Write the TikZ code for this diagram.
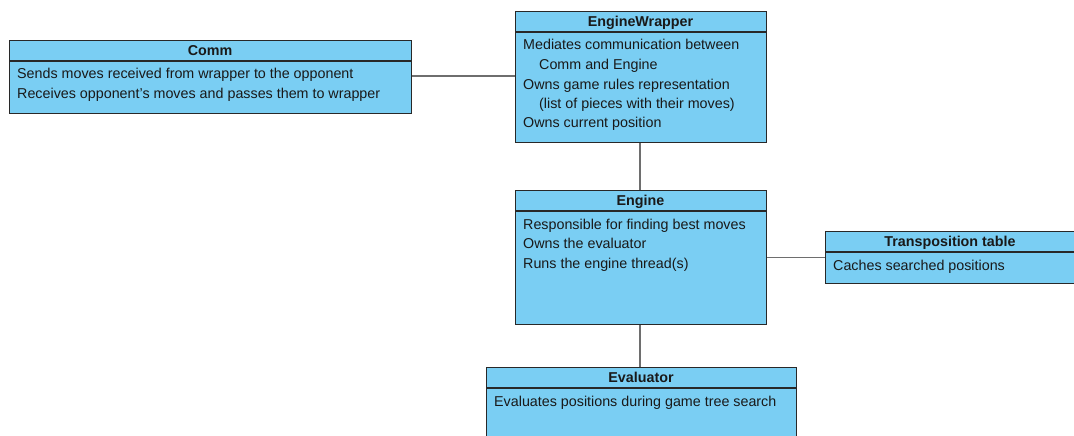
\documentclass[tikz,border=0pt]{standalone}
\usepackage{fontspec}
\setmainfont{Liberation Sans}
\definecolor{classfill}{RGB}{122,206,243}
\definecolor{classedge}{RGB}{40,40,40}
\definecolor{linkgray}{RGB}{110,110,110}
\definecolor{inktext}{RGB}{25,25,25}
\tikzset{
  classbox/.style={draw=classedge, fill=classfill, line width=1.1pt, anchor=north west, inner sep=0pt},
  divider/.style={draw=classedge, line width=1.1pt},
  title/.style={anchor=base, inner sep=0pt, text=inktext, font=\fontsize{14.3}{16}\selectfont\bfseries},
  txt/.style={anchor=base west, inner sep=0pt, text=inktext, font=\fontsize{14.3}{16}\selectfont},
  link/.style={draw=linkgray, line width=1.6pt},
}
\begin{document}
\begin{tikzpicture}[x=1pt, y=-1pt]
\useasboundingbox (0,0) rectangle (1074,436);
\clip (0,0) rectangle (1074,436);

% Comm
\node[classbox, minimum width=402pt, minimum height=73pt] (comm) at (9,40) {};
\draw[divider] (9,61) -- (411,61);
\node[title] (commT) at (210,55.5) {Comm};
\node[txt] (comm1) at (17,79) {Sends moves received from wrapper to the opponent};
\node[txt] (comm2) at (17,98.5) {Receives opponent's moves and passes them to wrapper};

% EngineWrapper
\node[classbox, minimum width=251pt, minimum height=131pt] (wrap) at (515,11) {};
\draw[divider] (515,32) -- (766,32);
\node[title] (wrapT) at (640.5,26.5) {EngineWrapper};
\node[txt] (wrap1) at (523,50) {Mediates communication between};
\node[txt] (wrap2) at (539,69.5) {Comm and Engine};
\node[txt] (wrap3) at (523,89) {Owns game rules representation};
\node[txt] (wrap4) at (539,108.5) {(list of pieces with their moves)};
\node[txt] (wrap5) at (523,128) {Owns current position};

% Engine
\node[classbox, minimum width=251pt, minimum height=134pt] (eng) at (515,190) {};
\draw[divider] (515,211) -- (766,211);
\node[title] (engT) at (640.5,205.5) {Engine};
\node[txt] (eng1) at (523,229) {Responsible for finding best moves};
\node[txt] (eng2) at (523,248.5) {Owns the evaluator};
\node[txt] (eng3) at (523,268) {Runs the engine thread(s)};

% Transposition table
\node[classbox, minimum width=252pt, minimum height=52pt] (tt) at (825,231) {};
\draw[divider] (825,252) -- (1077,252);
\node[title] (ttT) at (950,246.5) {Transposition table};
\node[txt] (tt1) at (833,270) {Caches searched positions};

% Evaluator
\node[classbox, minimum width=310pt, minimum height=100pt] (eval) at (486,367) {};
\draw[divider] (486,388) -- (796,388);
\node[title] (evalT) at (641,382.5) {Evaluator};
\node[txt] (eval1) at (494,406) {Evaluates positions during game tree search};

% Associations
\draw[link] (comm.east |- 0,76) -- (wrap.west |- 0,76);
\draw[link] (wrap.south -| 640,0) -- (eng.north -| 640,0);
\draw[link] (eng.east |- tt.west) -- (tt.west);
\draw[link] (eng.south -| 640,0) -- (eval.north -| 640,0);
\end{tikzpicture}
\end{document}
